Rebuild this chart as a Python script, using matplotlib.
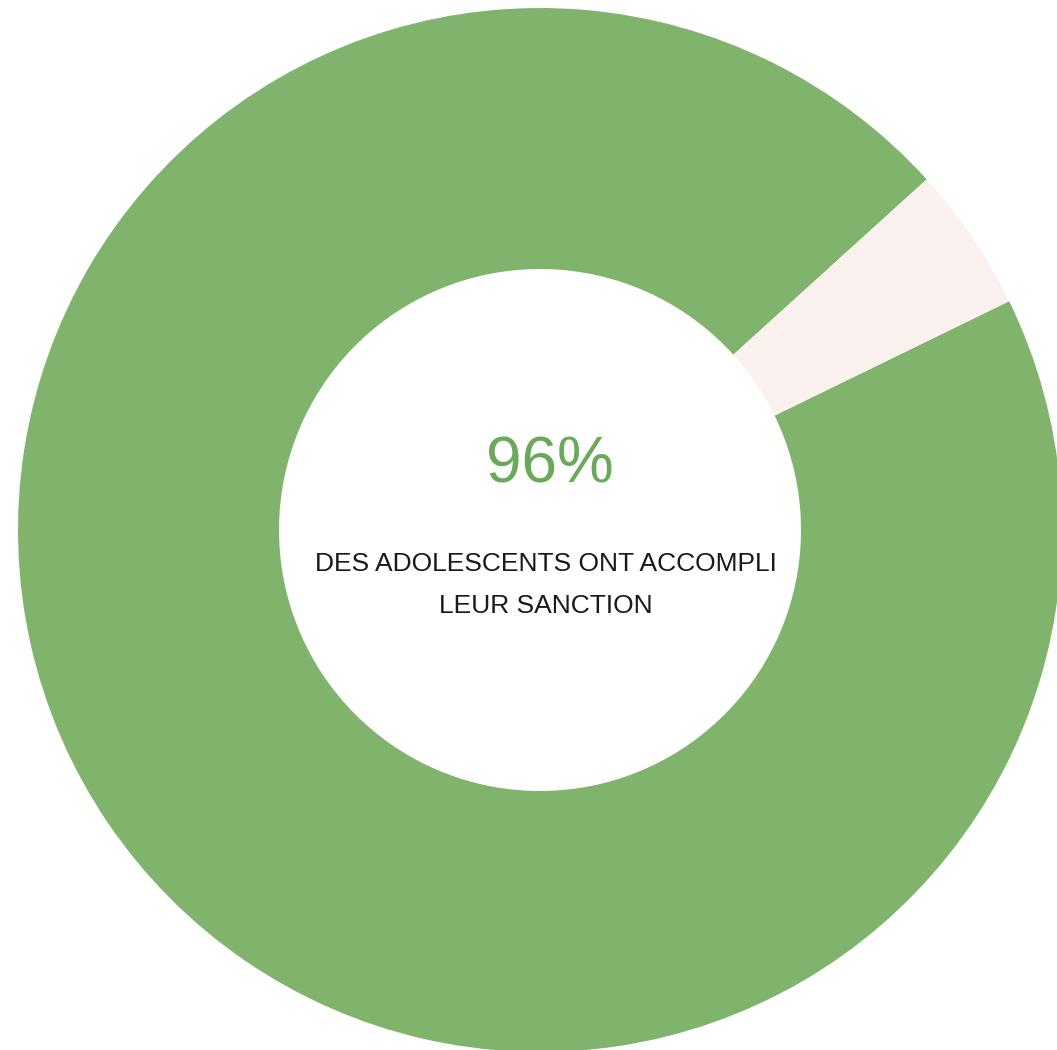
import matplotlib
matplotlib.use("Agg")
import matplotlib.pyplot as plt

# share of teens who completed their sanction
labels = ["Accompli", "Non accompli"]
values = [95.5, 4.5]
colors = ["#80b46c", "#fbf1ee"]

big_label = "96%"
caption = "DES ADOLESCENTS ONT ACCOMPLI\nLEUR SANCTION"

W, H = 1057, 1050
fig = plt.figure(figsize=(W / 100, H / 100), dpi=100)

# donut centre (px from left/top) and outer radius
cx, cy, r = 540, 530, 522
ax = fig.add_axes([(cx - r) / W, (H - cy - r) / H, 2 * r / W, 2 * r / H])

ax.pie(values, colors=colors, startangle=42.2, counterclock=True,
       radius=1.0, wedgeprops=dict(width=0.5, edgecolor="none"))
ax.set_xlim(-1, 1)
ax.set_ylim(-1, 1)
ax.set_aspect("auto")
ax.axis("off")

ax.text(0.019, 0.123, big_label, ha="center", va="center", fontsize=46,
        color="#6aa85a", family="Liberation Sans")
ax.text(0.011, -0.105, caption, ha="center", va="center", fontsize=19,
        color="#1a1a1a", family="Liberation Sans", linespacing=1.95)

fig.savefig("out.png", dpi=100)
